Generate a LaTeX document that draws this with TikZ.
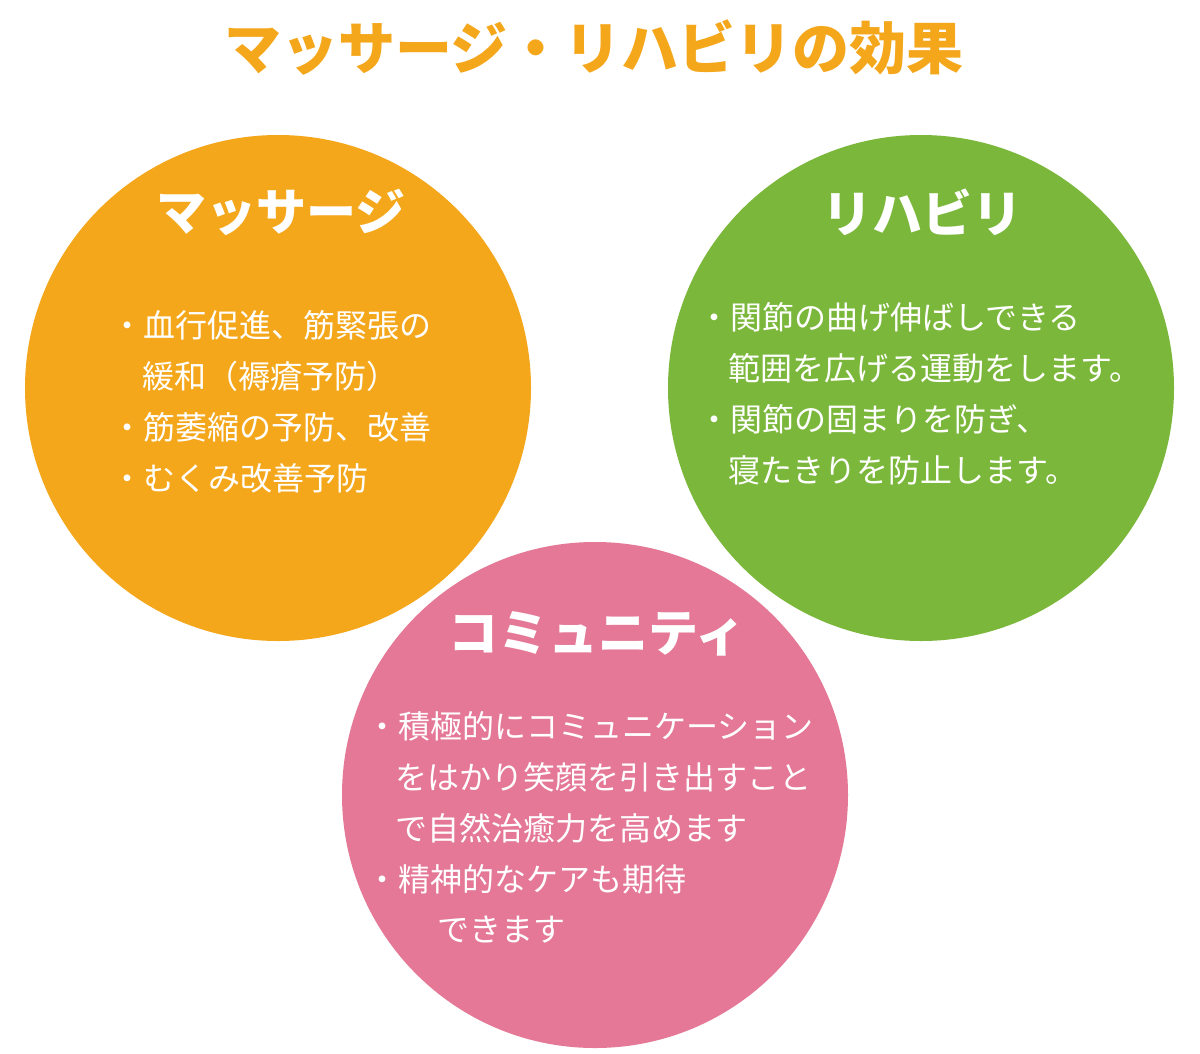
\documentclass[tikz,border=0pt]{standalone}
\usepackage{fontspec}
\setmainfont{Noto Sans CJK JP}
\definecolor{morange}{HTML}{F5A71B}
\definecolor{rgreen}{HTML}{7AB73A}
\definecolor{cpink}{HTML}{E47896}
\tikzset{
  bubble/.style={circle, minimum size=506pt, inner sep=0pt, draw=none},
  headtxt/.style={text=white, inner sep=0pt, font=\fontsize{50}{50}\selectfont\bfseries},
  bodytxt/.style={text=white, inner sep=0pt, anchor=west, font=\fontsize{32}{32}\selectfont},
}
\begin{document}
\begin{tikzpicture}[x=1pt,y=-1pt]
\useasboundingbox (0,0) rectangle (1200,1053);
\fill[white] (0,0) rectangle (1200,1053);
\node (title) at (594,48) [text=morange, inner sep=0pt, font=\fontsize{57}{57}\selectfont\bfseries] {マッサージ・リハビリの効果};
% circles
\node[bubble, fill=morange] (c1) at (278,388) {};
\node[bubble, fill=rgreen] (c2) at (921,388) {};
\node[bubble, fill=cpink] (c3) at (595,795) {};
% headings
\node[headtxt] (h1) at (281,212) {マッサージ};
\node[headtxt] (h2) at (922,212) {リハビリ};
\node[headtxt] (h3) at (597,634) {コミュニティ};
% massage body
\node[bodytxt] (m1) at (111,325) {・血行促進、筋緊張の};
\node[bodytxt] (m2) at (142,376) {緩和（褥瘡予防）};
\node[bodytxt] (m3) at (111,427) {・筋萎縮の予防、改善};
\node[bodytxt] (m4) at (111,478) {・むくみ改善予防};
% rehab body
\node[bodytxt] (r1) at (698,317) {・関節の曲げ伸ばしできる};
\node[bodytxt] (r2) at (728,368) {範囲を広げる運動をします。};
\node[bodytxt] (r3) at (698,419) {・関節の固まりを防ぎ、};
\node[bodytxt] (r4) at (728,470) {寝たきりを防止します。};
% community body
\node[bodytxt] (k1) at (366,726) {・積極的にコミュニケーション};
\node[bodytxt] (k2) at (395,777) {をはかり笑顔を引き出すこと};
\node[bodytxt] (k3) at (395,828) {で自然治癒力を高めます};
\node[bodytxt] (k4) at (366,879) {・精神的なケアも期待};
\node[bodytxt] (k5) at (437,930) {できます};
\end{tikzpicture}
\end{document}
